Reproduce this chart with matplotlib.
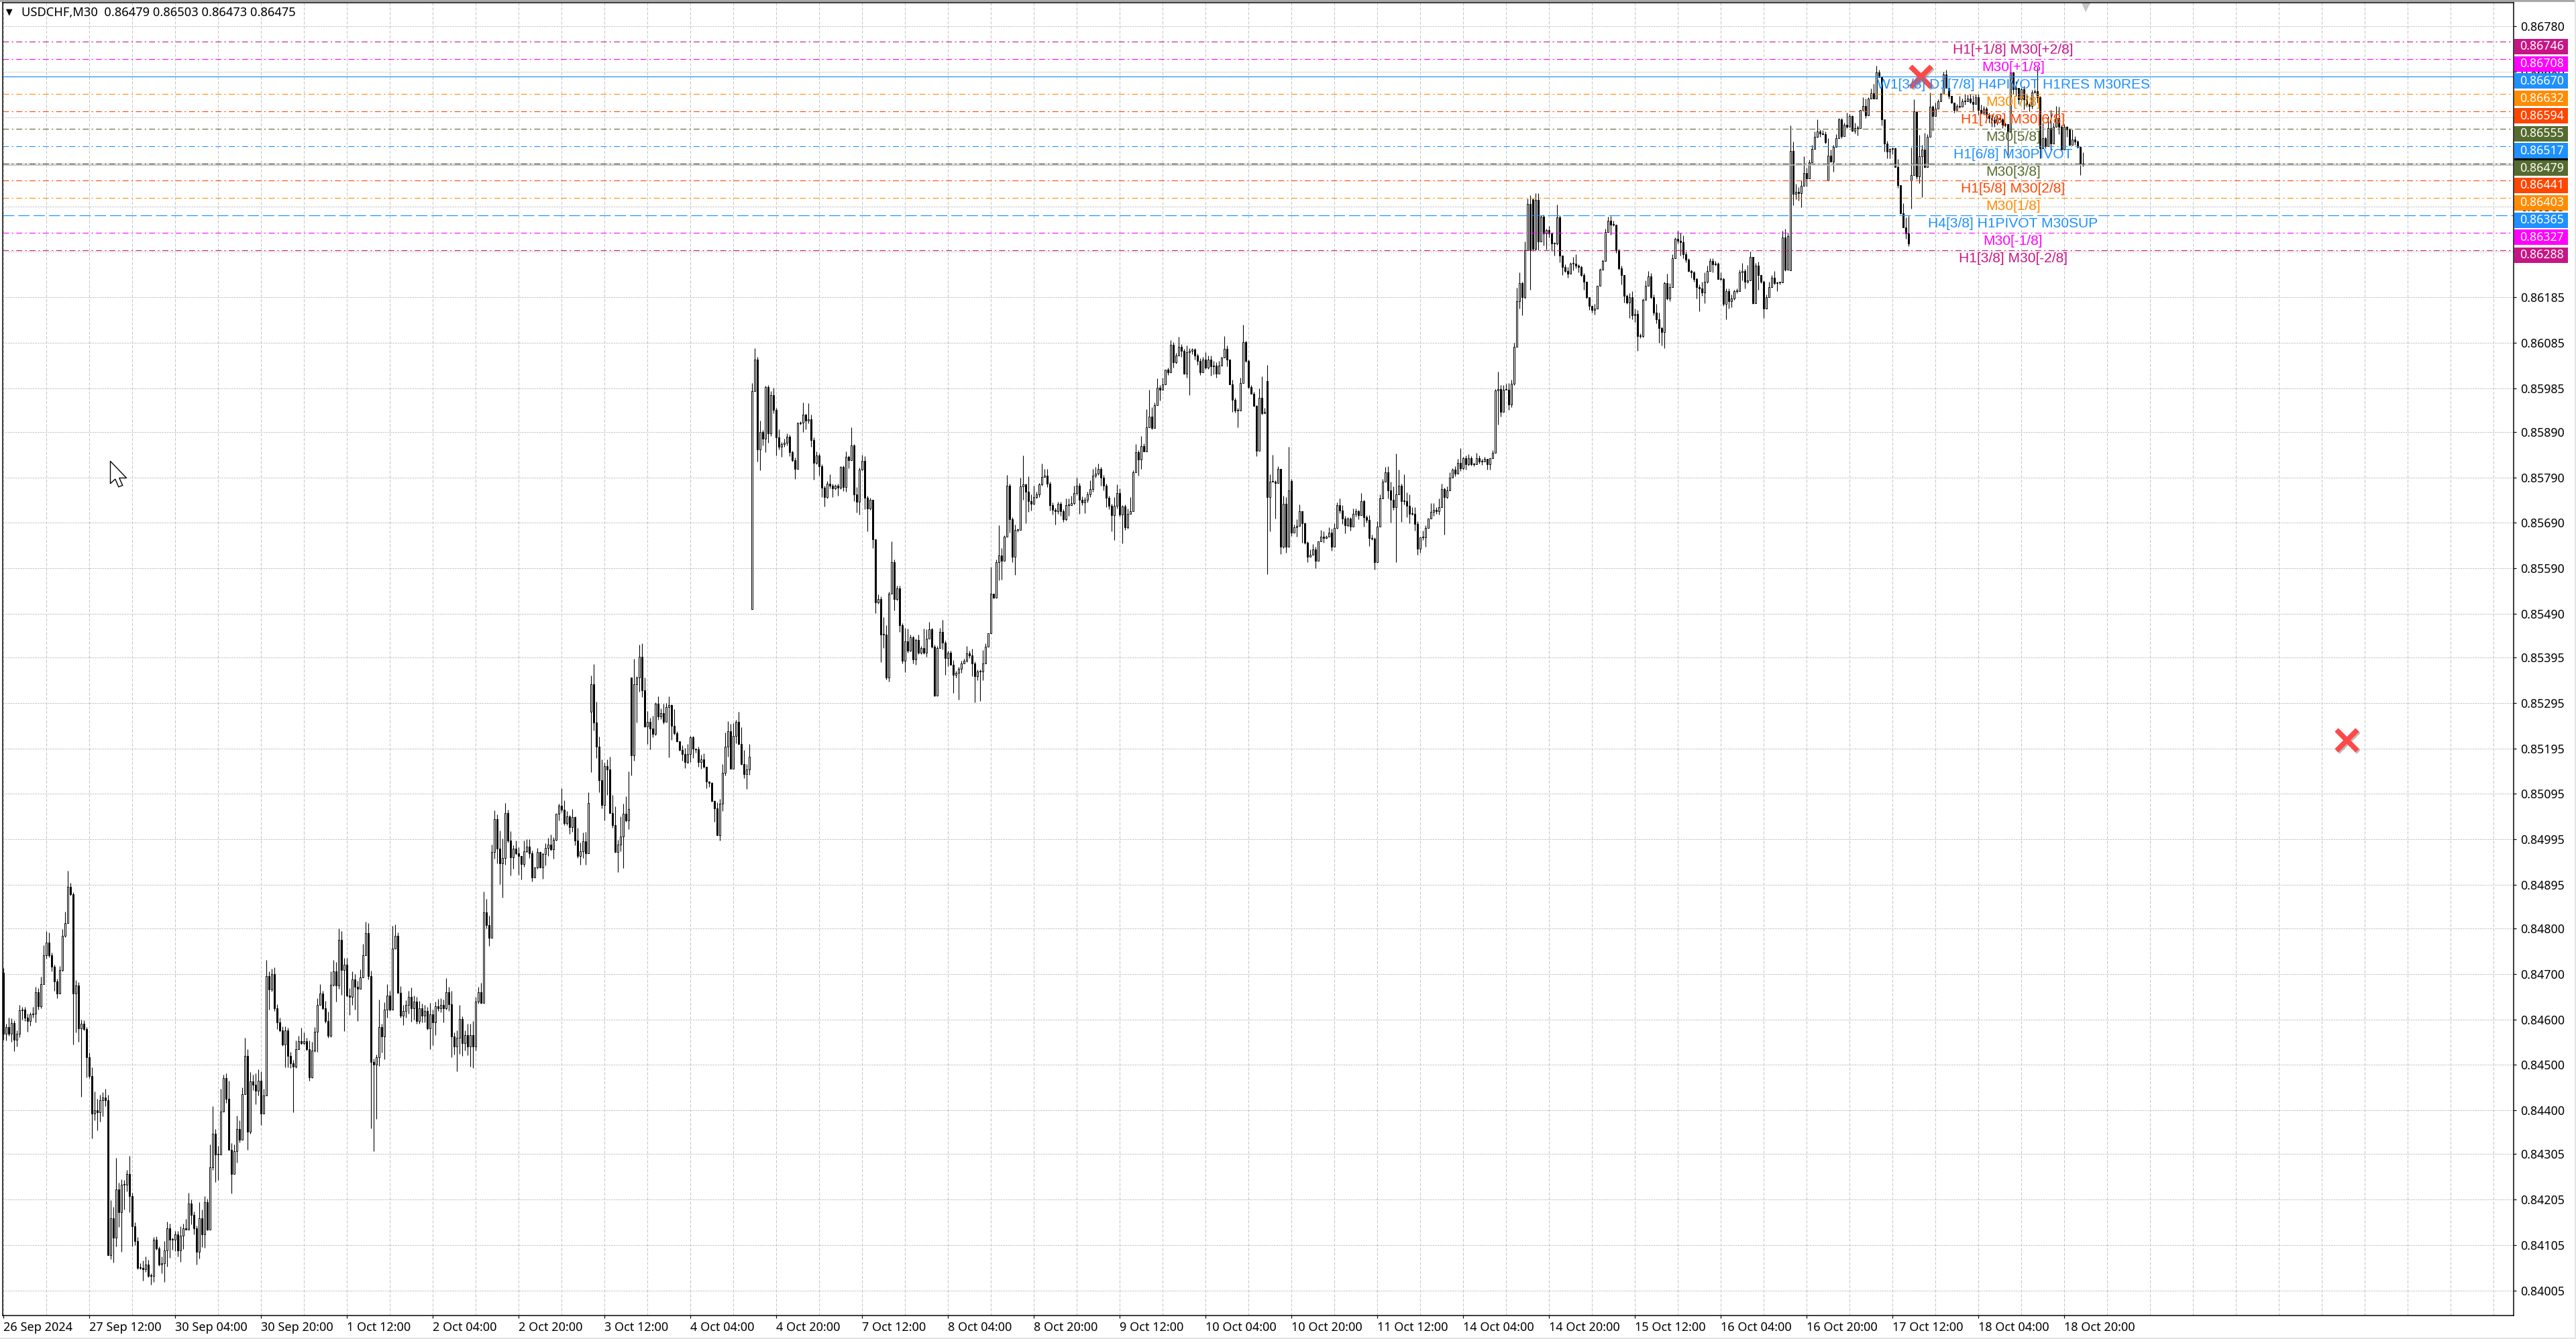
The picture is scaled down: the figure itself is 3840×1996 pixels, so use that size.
import matplotlib
matplotlib.use("Agg")
import matplotlib.pyplot as plt
import matplotlib.patheffects as pe
from matplotlib.patches import Rectangle
from matplotlib.path import Path
from matplotlib.transforms import blended_transform_factory

W, H, DPI = 3840, 1996, 100
PX = 72.0 / DPI

BASE = 0.84
SCALE = 1e5

# closes as points above 0.84000, one line per 16 bars
closes_pts = [
569,583,569,592,555,569,620,622,604,596,611,613,660,629,678,741,
769,741,715,683,657,709,784,811,891,874,657,674,580,590,578,517,
475,393,401,396,422,428,422,83,163,121,226,177,237,237,261,212,
146,114,55,55,51,62,37,36,116,97,62,65,93,142,116,116,
128,92,125,142,139,196,170,142,90,163,128,198,139,275,349,303,
303,398,471,426,314,261,310,359,335,436,520,354,464,457,443,466,
393,433,695,666,699,625,594,576,545,576,520,503,496,534,552,548,
552,534,473,531,573,632,657,625,597,564,676,706,674,774,709,720,
653,650,688,671,667,692,741,790,695,506,501,517,583,562,622,653,
622,755,783,658,608,618,632,650,625,639,597,625,608,618,580,611,
594,629,625,632,625,660,633,562,541,559,601,548,566,541,566,541,
639,660,636,835,807,779,968,1039,975,943,954,1053,993,955,975,964,
959,941,969,980,964,912,934,967,934,963,976,983,974,994,1051,1069,
1061,1031,1045,1022,1044,993,959,969,991,964,1075,1335,1252,1199,1125,1070,
1156,1149,1053,1026,968,983,1001,1052,1037,1062,1180,1335,1351,1396,1323,1243,
1253,1239,1226,1293,1265,1273,1253,1285,1290,1244,1228,1210,1191,1182,1165,1182,
1220,1194,1193,1165,1170,1155,1122,1119,1079,1063,1005,1073,1142,1199,1233,1150,
1223,1253,1204,1160,1139,1148,1176,1979,2048,1851,1889,1875,1988,1887,1971,1938,
1878,1857,1863,1866,1879,1845,1828,1808,1909,1910,1927,1915,1918,1872,1821,1838,
1814,1767,1747,1776,1771,1765,1771,1767,1813,1768,1835,1828,1860,1753,1736,1807,
1826,1745,1721,1740,1654,1516,1523,1445,1445,1351,1534,1604,1523,1547,1466,1387,
1430,1410,1439,1390,1433,1405,1415,1405,1436,1457,1418,1311,1415,1451,1427,1393,
1405,1378,1357,1360,1369,1382,1387,1404,1399,1381,1354,1363,1363,1381,1418,1447,
1534,1526,1604,1619,1607,1659,1771,1698,1616,1674,1675,1770,1774,1759,1738,1732,
1747,1753,1774,1791,1793,1776,1729,1718,1716,1732,1715,1698,1729,1729,1734,1756,
1771,1740,1735,1740,1753,1764,1793,1798,1808,1790,1771,1745,1727,1707,1727,1755,
1709,1726,1681,1710,1716,1801,1845,1829,1859,1846,1899,1924,1898,1949,1987,1982,
1994,2026,2020,2081,2043,2058,2076,2067,2018,2064,2067,2070,2058,2046,2021,2049,
2031,2049,2034,2035,2018,2035,2053,2072,2049,1994,1960,1937,1937,1997,2087,2045,
1988,1973,1947,1848,1964,1930,1933,1747,1781,1781,1778,1808,1637,1732,1638,1762,
1668,1680,1683,1715,1689,1646,1616,1620,1632,1607,1649,1660,1657,1660,1668,1638,
1679,1729,1717,1700,1685,1700,1682,1710,1716,1707,1737,1702,1697,1656,1655,1603,
1682,1743,1780,1801,1761,1740,1724,1752,1771,1737,1737,1728,1710,1710,1688,1633,
1658,1658,1679,1699,1714,1719,1716,1724,1764,1746,1761,1789,1807,1798,1822,1810,
1832,1819,1832,1819,1818,1832,1824,1824,1830,1819,1832,1844,1981,1984,1933,1982,
1982,1950,1996,2076,2176,2216,2185,2289,2390,2289,2292,2399,2307,2362,2326,2332,
2326,2304,2303,2360,2277,2252,2243,2237,2259,2259,2255,2252,2234,2219,2185,2166,
2158,2161,2210,2246,2265,2329,2353,2344,2344,2289,2249,2234,2188,2173,2185,2146,
2149,2100,2100,2179,2210,2231,2185,2152,2137,2118,2109,2216,2182,2207,2271,2313,
2309,2306,2279,2268,2243,2240,2225,2207,2205,2196,2219,2243,2265,2257,2259,2225,
2225,2170,2198,2176,2182,2198,2199,2240,2243,2219,2222,2274,2172,2255,2234,2219,
2161,2185,2207,2228,2216,2218,2218,2316,2246,2320,2507,2412,2417,2414,2430,2458,
2446,2481,2511,2538,2549,2545,2544,2525,2496,2483,2515,2535,2576,2539,2564,2560,
2583,2550,2556,2556,2596,2605,2584,2622,2633,2622,2679,2669,2575,2522,2505,2511,
2512,2471,2431,2370,2339,2326,2304,2454,2593,2451,2495,2510,2471,2537,2603,2583,
2599,2615,2632,2674,2645,2627,2613,2596,2605,2603,2615,2615,2622,2614,2610,2625,
2596,2591,2600,2586,2578,2574,2569,2579,2576,2564,2566,2549,2679,2642,2645,2620,
2642,2620,2610,2605,2635,2637,2625,2512,2534,2517,2556,2522,2559,2578,2559,2510,
2559,2554,2520,2532,2527,2516,2479,2475,
]

# bars whose open is not the previous close
gap_bars = [0, 219, 234, 279, 471, 480, 570, 666, 680, 711]
gap_opens_pts = [702, 1275, 1351, 1500, 2001, 1782, 2401, 2245, 2441, 2441]

# wick above the body, points
upper_wick = [
10,8,20,10,6,6,12,6,5,8,4,14,12,8,16,22,
25,22,5,5,6,8,14,26,35,8,5,12,8,10,8,5,
10,20,40,25,12,12,20,12,40,25,70,15,12,10,8,40,
8,8,8,10,15,18,10,6,6,8,5,15,20,14,10,5,
8,8,20,10,20,24,8,8,5,35,20,14,8,50,60,10,
20,50,8,10,40,15,15,30,20,14,40,15,20,15,25,25,
20,15,35,10,12,15,8,10,8,8,6,8,8,20,12,30,
20,8,20,20,10,14,20,6,15,20,30,25,20,25,20,15,
15,15,18,12,14,18,25,25,22,12,8,5,60,8,15,25,
10,50,25,8,15,14,10,12,20,14,10,16,10,14,10,25,
10,10,16,14,12,30,12,30,10,16,30,6,10,25,25,30,
10,12,20,45,30,20,15,20,11,40,43,22,7,20,7,17,
14,0,24,15,15,7,0,10,1,3,11,16,23,6,0,4,
39,20,13,3,18,1,28,19,19,20,24,20,45,45,22,45,
7,15,28,39,41,11,44,22,37,82,0,56,3,27,30,28,
24,9,27,3,16,9,20,10,19,2,37,5,0,11,14,23,
3,2,1,5,11,14,0,0,2,2,13,11,18,30,21,16,
27,5,22,37,32,13,28,18,26,7,26,5,3,5,8,15,
4,17,5,8,8,5,3,5,2,3,27,2,35,10,5,8,
5,5,5,6,20,5,3,5,2,3,12,3,40,3,15,5,
13,10,5,5,0,0,10,5,38,20,5,46,5,5,5,3,
30,28,6,2,3,12,5,43,20,15,3,5,5,8,26,5,
5,5,10,5,5,5,5,15,5,15,5,5,5,30,8,1,
60,0,5,66,15,3,24,5,5,12,0,20,64,2,33,15,
24,6,3,29,15,15,5,6,5,4,4,5,15,15,15,15,
18,6,8,6,6,20,15,15,12,5,5,5,5,5,20,20,
10,3,5,12,30,4,18,5,22,5,40,58,20,5,20,5,
15,1,5,10,6,5,22,6,5,15,6,3,4,4,6,6,
15,8,8,11,8,11,2,28,8,0,10,5,5,12,38,2,
4,5,5,1,21,48,10,35,15,58,3,6,1,18,15,95,
5,6,15,16,0,2,3,11,11,5,0,14,11,2,12,9,
10,6,14,12,5,3,3,12,6,3,18,3,5,10,8,3,
12,9,6,12,14,20,30,90,36,5,60,20,25,15,15,5,
0,15,6,1,20,15,5,20,12,3,9,12,3,8,9,32,
3,6,9,5,3,12,6,6,5,0,0,6,3,38,9,11,
14,15,8,9,30,24,3,18,12,20,0,14,15,3,5,3,
9,3,2,29,5,0,5,9,3,15,21,3,3,5,1,0,
0,9,0,3,3,6,9,10,9,1,3,6,0,3,10,14,
12,8,6,3,12,12,8,6,18,15,3,3,21,9,9,3,
18,18,15,6,3,3,3,3,6,14,21,12,6,6,6,3,
15,3,6,6,9,3,5,6,18,5,34,12,0,5,8,0,
3,6,12,6,15,1,1,15,20,6,55,20,17,10,12,37,
11,6,9,11,27,5,7,5,38,14,5,9,2,3,5,27,
5,2,12,6,0,20,17,3,11,21,15,5,1,0,7,1,
2,2,18,1,22,22,37,60,27,1,47,10,37,7,32,4,
14,5,3,7,10,0,1,0,5,22,7,17,8,10,15,7,
7,12,5,4,5,10,7,6,2,3,2,0,7,2,15,0,
3,7,10,3,5,5,53,2,35,3,27,40,10,27,25,3,
7,2,2,22,7,3,1,24,
]

# wick below the body, points
lower_wick = [
14,15,5,18,25,15,8,20,7,23,10,8,20,7,4,0,
8,5,10,20,10,0,3,3,0,2,112,85,30,150,3,45,
4,55,15,40,20,35,13,0,10,55,20,33,88,55,15,35,
45,10,3,3,25,5,3,18,12,3,3,20,42,35,40,22,
25,12,25,30,0,0,20,14,28,15,28,30,2,0,5,60,
56,0,0,10,0,43,0,25,5,0,0,40,5,12,30,10,
25,0,0,45,5,7,15,3,3,50,25,10,100,3,0,3,
3,3,7,2,3,45,0,3,5,5,3,3,35,7,55,135,
4,40,18,50,70,0,0,0,7,145,190,120,20,35,50,18,
3,0,0,0,4,20,14,20,30,25,7,7,14,14,3,45,
50,28,7,10,32,4,15,45,18,55,35,28,17,20,45,48,
10,5,2,0,7,18,0,15,32,46,76,15,5,39,24,2,
41,34,6,3,10,9,0,4,2,25,25,17,4,21,2,14,
7,5,4,15,10,11,5,19,15,24,0,132,18,26,26,7,
33,56,0,5,2,45,14,69,3,20,45,12,83,32,15,2,
38,46,6,2,8,6,4,0,110,31,3,1,1,14,13,3,
17,20,7,11,15,4,15,8,1,29,1,12,15,6,22,0,
0,17,1,1,9,33,11,0,0,27,46,15,30,21,6,8,
40,6,22,6,6,9,4,21,0,3,21,20,6,15,36,2,
21,20,21,3,6,18,2,17,3,8,9,18,0,15,23,27,
2,25,50,2,20,24,3,60,30,5,9,0,26,3,15,6,
25,5,2,9,12,3,3,3,9,0,3,2,0,0,15,36,
18,0,41,6,58,9,0,3,6,27,58,9,64,18,0,0,
0,2,0,40,42,0,0,30,12,40,4,0,30,70,24,15,
2,3,6,2,0,8,12,10,30,6,10,6,3,24,0,3,
5,30,6,24,5,6,6,3,3,18,9,20,7,36,55,6,
5,64,7,3,0,0,0,36,20,0,0,0,3,0,0,24,
0,0,5,0,12,3,0,12,2,10,94,6,9,9,7,0,
3,3,21,18,9,0,0,0,15,0,27,5,38,0,0,2,
3,0,2,12,0,3,0,170,75,0,79,0,15,3,13,0,
7,0,20,0,42,3,12,0,0,17,0,0,10,2,0,9,
1,1,6,12,18,3,9,0,6,9,0,20,6,17,3,15,
0,0,0,0,18,50,5,120,0,45,6,26,21,3,15,13,
9,6,21,0,0,9,6,8,0,82,3,0,0,6,0,6,
3,12,3,3,4,0,4,7,0,12,12,0,0,75,10,0,
0,12,6,3,0,15,40,3,0,88,5,3,18,0,27,36,
9,17,26,3,15,18,3,9,0,15,6,12,3,18,3,8,
6,11,0,0,0,0,0,21,3,6,3,21,15,3,33,9,
15,33,4,3,0,0,3,6,9,33,30,36,3,6,0,0,
5,29,8,6,2,12,6,24,50,7,24,3,0,17,3,0,
3,3,33,15,12,3,3,0,18,15,3,0,2,0,33,3,
21,0,0,0,3,17,5,0,3,0,0,25,12,17,31,0,
17,0,0,0,2,8,2,2,0,0,22,0,0,5,0,3,
0,1,5,15,0,0,6,0,0,1,0,0,13,17,15,15,
12,0,5,2,1,12,7,61,0,7,15,90,2,0,0,32,
0,0,0,0,2,5,2,5,0,2,0,7,0,3,15,0,
10,2,5,7,10,15,10,5,0,7,5,57,0,10,15,10,
0,22,7,12,5,0,12,22,0,5,0,12,0,0,15,3,
0,17,2,0,7,3,25,2,
]

date_labels = [
    "26 Sep 2024", "27 Sep 12:00", "30 Sep 04:00", "30 Sep 20:00", "1 Oct 12:00",
    "2 Oct 04:00", "2 Oct 20:00", "3 Oct 12:00", "4 Oct 04:00", "4 Oct 20:00",
    "7 Oct 12:00", "8 Oct 04:00", "8 Oct 20:00", "9 Oct 12:00", "10 Oct 04:00",
    "10 Oct 20:00", "11 Oct 12:00", "14 Oct 04:00", "14 Oct 20:00", "15 Oct 12:00",
    "16 Oct 04:00", "16 Oct 20:00", "17 Oct 12:00", "18 Oct 04:00", "18 Oct 20:00",
]
BARS_PER_LABEL = 32
BARS_PER_GRID = 16

y_ticks = [
    0.86780, 0.86680, 0.86580, 0.86480, 0.86385, 0.86285, 0.86185, 0.86085, 0.85985, 0.85890,
    0.85790, 0.85690, 0.85590, 0.85490, 0.85395, 0.85295, 0.85195, 0.85095, 0.84995, 0.84895,
    0.84800, 0.84700, 0.84600, 0.84500, 0.84400, 0.84305, 0.84205, 0.84105, 0.84005,
]

level_prices = [0.86746, 0.86708, 0.86670, 0.86632, 0.86594, 0.86555, 0.86517,
                0.86479, 0.86441, 0.86403, 0.86365, 0.86327, 0.86288]
level_colors = ["#C71585", "#FF00FF", "#1E90FF", "#FF8C00", "#FF4500", "#556B2F", "#1E90FF",
                "#556B2F", "#FF4500", "#FF8C00", "#1E90FF", "#FF00FF", "#C71585"]
level_styles = ["dd", "dd", "solid", "dd", "dd", "dd", "dd", "dd", "dd", "dd", "dash", "dd", "dd"]
level_texts = [
    "H1[+1/8] M30[+2/8]", "M30[+1/8]", "W1[3/8] D1[7/8] H4PIVOT H1RES M30RES", "M30[7/8]",
    "H1[7/8] M30[6/8]", "M30[5/8]", "H1[6/8] M30PIVOT", "M30[3/8]", "H1[5/8] M30[2/8]",
    "M30[1/8]", "H4[3/8] H1PIVOT M30SUP", "M30[-1/8]", "H1[3/8] M30[-2/8]",
]
current_price = 0.86475
header_text = "USDCHF,M30  0.86479 0.86503 0.86473 0.86475"
level_text_bar = 749.0
cross_bars = [714.6, 873.4]
cross_prices = [0.86669, 0.85213]
cursor_bar, cursor_price = 39.75, 0.85826
shift_bar, shift_price = 776.0, 0.86823

assert len(closes_pts) == len(upper_wick) == len(lower_wick), (len(closes_pts), len(upper_wick), len(lower_wick))

# ---- layout
LEFT, RIGHT, TOP, BOTTOM = 4, 3747, 4, 1961
PX_PER_PRICE = 67900.0
PX_PER_BAR = 4.0
FIRST_BAR_PX = 5.0

fig = plt.figure(figsize=(W / DPI, H / DPI), dpi=DPI, facecolor="white")
ax = fig.add_axes([LEFT / W, 1 - BOTTOM / H, (RIGHT - LEFT) / W, (BOTTOM - TOP) / H])
ax.set_xlim((LEFT - FIRST_BAR_PX) / PX_PER_BAR, (RIGHT - FIRST_BAR_PX) / PX_PER_BAR)
ax.set_ylim(0.86780 - (BOTTOM - 39.3) / PX_PER_PRICE, 0.86780 + (39.3 - TOP) / PX_PER_PRICE)
ax.set_facecolor("white")

for s in ax.spines.values():
    s.set_linewidth(1.5 * PX)
    s.set_color("black")
    s.set_zorder(8)

# ---- grid and ticks
n = len(closes_pts)
grid_end = int(ax.get_xlim()[1])
ax.set_xticks(list(range(0, grid_end + 1, BARS_PER_GRID)), minor=True)
ax.set_xticks([i * BARS_PER_LABEL for i in range(len(date_labels))])
ax.set_xticklabels(date_labels, ha="left", fontsize=13, family="Noto Sans", color="black")
ax.set_yticks(y_ticks)
ax.set_yticklabels([f"{v:.5f}" for v in y_ticks], fontsize=12.8, family="Noto Sans", color="black")
ax.yaxis.tick_right()
ax.tick_params(axis="y", length=3 * PX * 1.4, width=1.2 * PX, pad=4.5, direction="out")
ax.tick_params(axis="x", which="major", length=4 * PX, width=1.2 * PX, pad=3.5, direction="out")
ax.tick_params(axis="x", which="minor", length=0)
ax.set_axisbelow(True)
ax.grid(True, axis="y", which="major", color="#c4c4c4", lw=1.0 * PX, linestyle=(0, (2.4, 1.3)))
ax.grid(True, axis="x", which="both", color="#c4c4c4", lw=1.0 * PX, linestyle=(0, (4.5, 2.4)))

# ---- candles
gap = dict(zip(gap_bars, gap_opens_pts))
xs, opens, highs, lows, closes = [], [], [], [], []
for i, c in enumerate(closes_pts):
    o = gap[i] if i in gap else closes_pts[i - 1]
    xs.append(i)
    opens.append(BASE + o / SCALE)
    closes.append(BASE + c / SCALE)
    highs.append(BASE + (max(o, c) + upper_wick[i]) / SCALE)
    lows.append(BASE + (min(o, c) - lower_wick[i]) / SCALE)

ax.vlines(xs, lows, highs, colors="black", lw=1.1 * PX, zorder=2)
min_h = 1 / PX_PER_PRICE
for color, keep in (("white", lambda o, c: c >= o), ("black", lambda o, c: c < o)):
    idx = [i for i in range(n) if keep(opens[i], closes[i])]
    ax.bar([xs[i] for i in idx],
           [max(abs(closes[i] - opens[i]), min_h) for i in idx],
           bottom=[min(opens[i], closes[i]) for i in idx],
           width=0.5, facecolor=color, edgecolor="black", linewidth=1.0 * PX, zorder=2.2)

# ---- current price line
ax.axhline(current_price, color="#b8b8b8", lw=1.6 * PX, zorder=3.2)

# ---- level lines, texts and price boxes
trans = blended_transform_factory(ax.transAxes, ax.transData)
axw = RIGHT - LEFT
box_left = 1 + 1.0 / axw
box_w = 80.0 / axw
box_h = 23.0 / PX_PER_PRICE

ax.add_patch(Rectangle((box_left, current_price - 12 / PX_PER_PRICE), box_w, box_h, transform=trans,
                       facecolor="black", edgecolor="none", clip_on=False, zorder=5))
dashes = {"dd": (0, (8, 4, 2, 4)), "solid": "-", "dash": (0, (14, 5))}
for price, col, sty, txt in zip(level_prices, level_colors, level_styles, level_texts):
    ax.axhline(price, color=col, lw=(1.2 if sty != "dd" else 1.1) * PX, linestyle=dashes[sty], zorder=3)
    ax.text(level_text_bar, price - 12.5 / PX_PER_PRICE, txt, color=col, fontsize=15.1,
            family="Liberation Sans", ha="center", va="center", zorder=4)
    ax.add_patch(Rectangle((box_left, price - 18.5 / PX_PER_PRICE), box_w, box_h, transform=trans,
                           facecolor=col, edgecolor="none", clip_on=False, zorder=5.5))
    ax.text(1 + 9.0 / axw, price - 7 / PX_PER_PRICE, f"{price:.5f}", transform=trans, color="white",
            fontsize=12.8, family="Noto Sans", ha="left", va="center", clip_on=False, zorder=6)

# ---- cross objects
ax.plot(cross_bars, cross_prices, linestyle="none", marker="x", markersize=31 * PX,
        markeredgewidth=7.5 * PX, color="#FF4848", zorder=3.5,
        path_effects=[pe.SimpleLineShadow(offset=(1.5, -1.5), shadow_color="#777777", alpha=0.5), pe.Normal()])

# ---- mouse pointer and chart-shift marker
cursor_path = Path([(0, 0), (24, -25), (13.3, -25), (18.3, -36), (12.3, -38.3), (7.3, -26.7), (0, -33.3), (0, 0)], closed=True)
ax.plot([cursor_bar], [cursor_price], linestyle="none", marker=cursor_path, markersize=76.6 * PX,
        markerfacecolor="white", markeredgecolor="black", markeredgewidth=1.4 * PX, zorder=7)
ax.plot([shift_bar], [shift_price], linestyle="none", marker="v", markersize=15 * PX,
        color="#c4c4c4", markeredgewidth=0, zorder=7)

# ---- header
fig.text(32 / W, 1 - 19 / H, header_text, fontsize=13.2, family="Noto Sans", color="black", va="center", ha="left")
fig.text(14 / W, 1 - 18 / H, "\u25BC", fontsize=9, family="DejaVu Sans", color="black", va="center", ha="center")

# ---- window edges
fig.add_artist(Rectangle((0, 1 - 3 / H), 1, 3 / H, transform=fig.transFigure, facecolor="#a8a8a8", edgecolor="none"))
fig.add_artist(Rectangle((0, 0), 1, 2 / H, transform=fig.transFigure, facecolor="#e4e4e4", edgecolor="none"))
fig.add_artist(Rectangle((1 - 2 / W, 0), 2 / W, 1, transform=fig.transFigure, facecolor="#e4e4e4", edgecolor="none"))

fig.savefig("out.png", dpi=DPI, facecolor="white")
